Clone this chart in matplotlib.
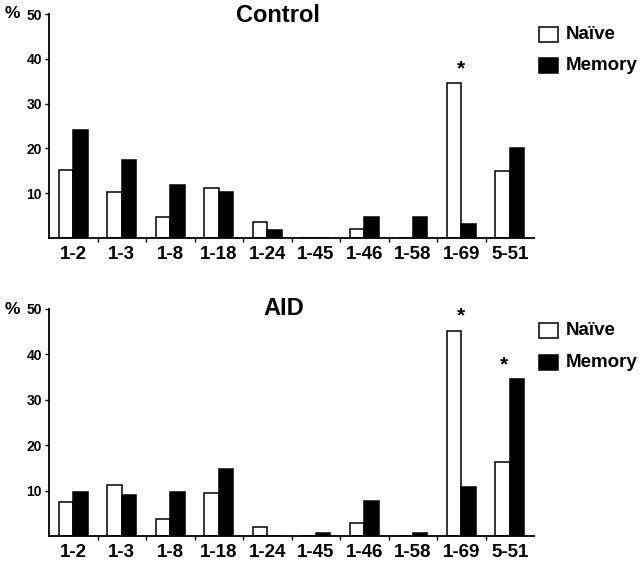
import numpy as np
import matplotlib.pyplot as plt
from matplotlib.patches import Rectangle

plt.rcParams['font.family'] = ['Liberation Sans', 'DejaVu Sans']
plt.rcParams['font.weight'] = 'bold'

### data
genes = ['1-2', '1-3', '1-8', '1-18', '1-24', '1-45', '1-46', '1-58', '1-69', '5-51']
control_naive = [15.2, 10.3, 4.7, 11.1, 3.6, 0, 1.9, 0, 34.6, 14.9]
control_memory = [24.2, 17.3, 11.8, 10.3, 1.8, 0, 4.7, 4.7, 3.2, 20.2]
aid_naive = [7.4, 11.2, 3.8, 9.4, 1.9, 0, 2.8, 0, 45.2, 16.3]
aid_memory = [9.8, 9.0, 9.8, 14.8, 0, 0.7, 7.8, 0.7, 10.7, 34.5]
control_stars = ['1-69']
aid_stars = ['1-69', '5-51']
legend_labels = ['Naïve', 'Memory']

fig = plt.figure(figsize=(6.4, 5.62), dpi=100)
W, H = 640, 562

def px(x, y):
    # figure pixel coords (top-left origin) -> figure fraction
    return x / W, 1 - y / H

def panel(top, bottom, title, title_x, title_drop, naive, memory, stars, leg_rows):
    hpx = bottom - top
    ax = fig.add_axes([49 / W, 1 - bottom / H, (534 - 49) / W, hpx / H])
    x = np.arange(len(genes))
    w = 0.3
    ax.bar(x - w / 2, naive, w, color='white', edgecolor='black', linewidth=1.1)
    ax.bar(x + w / 2, memory, w, color='black', edgecolor='black', linewidth=1.1)
    ax.set_xlim(-0.5, len(genes) - 0.5)
    ax.set_ylim(0, 50)
    ax.set_yticks([10, 20, 30, 40, 50])
    ax.tick_params(axis='y', labelsize=10, length=3, width=1, pad=2)
    ax.set_xticks(x)
    ax.set_xticklabels(genes, fontsize=13.5, fontweight='bold')
    ax.tick_params(axis='x', length=0, pad=6)
    ax.set_xticks(np.arange(0.5, len(genes) - 0.5), minor=True)
    ax.tick_params(axis='x', which='minor', length=3, width=1)
    for s in ['top', 'right']:
        ax.spines[s].set_visible(False)
    for s in ['left', 'bottom']:
        ax.spines[s].set_linewidth(1.3)
    ax.text((12 - 49) / 485, 1.0, '%', fontsize=12.5, fontweight='bold',
            ha='center', va='center', transform=ax.transAxes, clip_on=False)
    ax.text(title_x, 1 - title_drop / hpx, title, fontsize=17, fontweight='bold',
            ha='center', va='baseline', transform=ax.transAxes, clip_on=False)
    for g in stars:
        i = genes.index(g)
        top_v = max(naive[i], memory[i])
        # star sits a little left of the pair centre when memory is the tall bar
        xs = i if naive[i] > memory[i] else i - 0.12
        ax.text(xs, top_v + 3.2, '*', fontsize=15, fontweight='bold', ha='center', va='center')
    # legend drawn by hand: box + label
    for (yc, hgt), lab, fc in zip(leg_rows, legend_labels, ['white', 'black']):
        x0, y0 = px(539, yc + hgt / 2)
        fig.add_artist(Rectangle((x0, y0), 18.5 / W, hgt / H, transform=fig.transFigure,
                                 facecolor=fc, edgecolor='black', linewidth=1.1))
        tx, ty = px(566, yc)
        fig.text(tx, ty, lab, fontsize=13.5, fontweight='bold', ha='left', va='center')
    return ax

panel(14, 238, 'Control', 0.472, 8, control_naive, control_memory, control_stars,
      [(34.5, 14.5), (65.5, 14.5)])
panel(309, 536, 'AID', 0.485, 6, aid_naive, aid_memory, aid_stars,
      [(330.5, 14.5), (362.5, 14.5)])

fig.savefig('out.png', dpi=100)
